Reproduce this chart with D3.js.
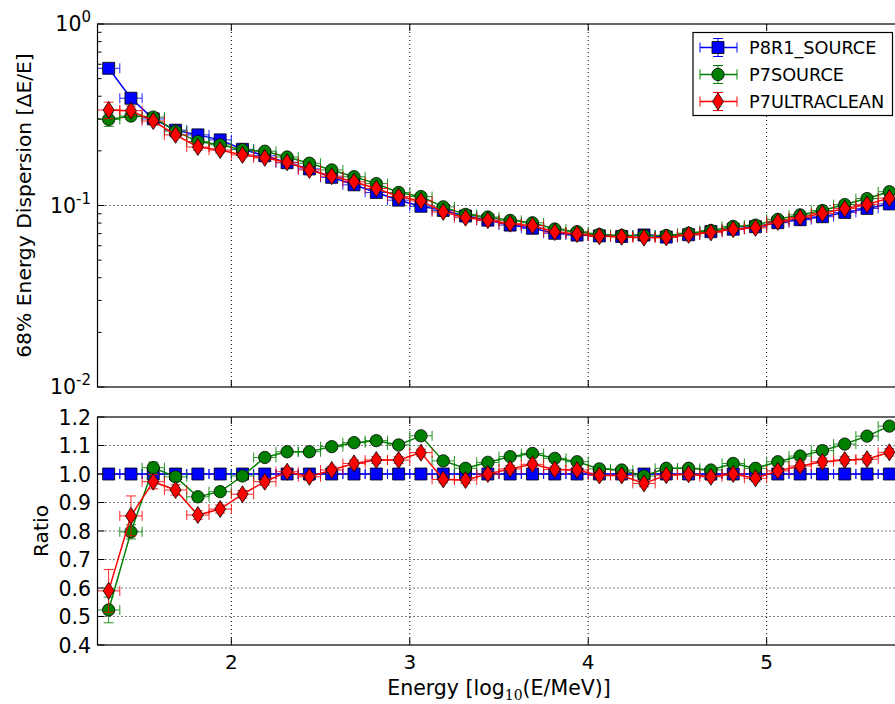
<!DOCTYPE html>
<html>
<head>
<meta charset="utf-8">
<script src="https://cdn.jsdelivr.net/npm/d3@7"></script>
<style>
  body { margin: 0; background: #fff; }
  text { font-family: "DejaVu Sans", sans-serif; fill: #000; }
</style>
</head>
<body>
<div id="chart"></div>
<script>
// energy bin centres, log10(E/MeV)
var energy = [1.3125, 1.4375, 1.5625, 1.6875, 1.8125, 1.9375, 2.0625, 2.1875, 2.3125, 2.4375, 2.5625, 2.6875,
  2.8125, 2.9375, 3.0625, 3.1875, 3.3125, 3.4375, 3.5625, 3.6875, 3.8125, 3.9375, 4.0625, 4.1875,
  4.3125, 4.4375, 4.5625, 4.6875, 4.8125, 4.9375, 5.0625, 5.1875, 5.3125, 5.4375, 5.5625, 5.6875];
var binHalf = 0.0625;

var seriesNames = ["P8R1_SOURCE", "P7SOURCE", "P7ULTRACLEAN"];

// 68% energy dispersion
var dispP8 = [0.57, 0.39, 0.30, 0.26, 0.245, 0.23, 0.204, 0.188, 0.172, 0.159, 0.143, 0.130,
  0.118, 0.107, 0.099, 0.094, 0.0875, 0.083, 0.078, 0.0749, 0.0703, 0.0687, 0.068, 0.0675,
  0.0688, 0.067, 0.069, 0.0718, 0.074, 0.0764, 0.0804, 0.0835, 0.0867, 0.0916, 0.0964, 0.102];
var dispP7 = [0.298, 0.311, 0.307, 0.257, 0.225, 0.216, 0.203, 0.199, 0.185, 0.171, 0.157, 0.144,
  0.132, 0.118, 0.112, 0.0983, 0.0893, 0.0864, 0.0828, 0.0803, 0.0742, 0.0717, 0.0692, 0.0684,
  0.0683, 0.0683, 0.0704, 0.0728, 0.0767, 0.0779, 0.0839, 0.0888, 0.0938, 0.1012, 0.1092, 0.1191];
var dispUC = [0.336, 0.333, 0.292, 0.245, 0.210, 0.202, 0.190, 0.183, 0.173, 0.157, 0.145, 0.135,
  0.124, 0.112, 0.106, 0.0922, 0.0857, 0.083, 0.0794, 0.0774, 0.0714, 0.0697, 0.0677, 0.0672,
  0.0665, 0.0667, 0.0689, 0.0711, 0.074, 0.0753, 0.0813, 0.0858, 0.0904, 0.0961, 0.1014, 0.1098];

var dispErrP8 = [0.02, 0.015, 0.008, 0.006, 0.005, 0.005, 0.004, 0.004, 0.003, 0.003, 0.003, 0.003,
  0.002, 0.002, 0.002, 0.002, 0.002, 0.0015, 0.0015, 0.0015, 0.0015, 0.0015, 0.0015, 0.0015,
  0.0015, 0.0015, 0.0015, 0.0015, 0.0015, 0.0015, 0.002, 0.002, 0.002, 0.002, 0.0025, 0.0025];
var dispErrP7 = [0.025, 0.012, 0.01, 0.008, 0.007, 0.006, 0.005, 0.005, 0.004, 0.004, 0.004, 0.003,
  0.003, 0.003, 0.003, 0.002, 0.002, 0.002, 0.002, 0.002, 0.002, 0.0015, 0.0015, 0.0015,
  0.0015, 0.0015, 0.0015, 0.0015, 0.002, 0.002, 0.002, 0.002, 0.0025, 0.0025, 0.003, 0.003];
var dispErrUC = [0.035, 0.02, 0.012, 0.009, 0.008, 0.007, 0.006, 0.005, 0.005, 0.004, 0.004, 0.004,
  0.003, 0.003, 0.003, 0.0025, 0.002, 0.002, 0.002, 0.002, 0.002, 0.002, 0.0015, 0.0015,
  0.0015, 0.0015, 0.0015, 0.0015, 0.002, 0.002, 0.002, 0.002, 0.0025, 0.0025, 0.003, 0.003];

// ratio to P8R1_SOURCE
var ratioP8 = [1, 1, 1, 1, 1, 1, 1, 1, 1, 1, 1, 1, 1, 1, 1, 1, 1, 1,
  1, 1, 1, 1, 1, 1, 1, 1, 1, 1, 1, 1, 1, 1, 1, 1, 1, 1];
var ratioP7 = [0.523, 0.797, 1.022, 0.99, 0.92, 0.938, 0.993, 1.058, 1.078, 1.078, 1.096, 1.11,
  1.117, 1.102, 1.134, 1.046, 1.02, 1.041, 1.061, 1.072, 1.055, 1.043, 1.018, 1.014,
  0.993, 1.02, 1.02, 1.014, 1.037, 1.02, 1.043, 1.063, 1.082, 1.105, 1.133, 1.168];
var ratioUC = [0.59, 0.853, 0.973, 0.944, 0.856, 0.877, 0.929, 0.973, 1.008, 0.99, 1.014, 1.037,
  1.049, 1.049, 1.075, 0.981, 0.979, 1.0, 1.018, 1.034, 1.016, 1.014, 0.995, 0.995,
  0.967, 0.996, 0.999, 0.99, 1.0, 0.985, 1.011, 1.028, 1.043, 1.049, 1.052, 1.076];

var ratioErrP8 = [0.014, 0.008, 0.005, 0.005, 0.005, 0.005, 0.004, 0.004, 0.004, 0.004, 0.004, 0.004,
  0.004, 0.004, 0.004, 0.004, 0.004, 0.004, 0.004, 0.004, 0.004, 0.004, 0.004, 0.004,
  0.004, 0.004, 0.004, 0.004, 0.004, 0.004, 0.004, 0.004, 0.004, 0.004, 0.004, 0.004];
var ratioErrP7 = [0.045, 0.025, 0.02, 0.015, 0.013, 0.012, 0.011, 0.011, 0.01, 0.01, 0.01, 0.01,
  0.01, 0.01, 0.01, 0.01, 0.01, 0.01, 0.01, 0.01, 0.01, 0.01, 0.01, 0.01,
  0.01, 0.01, 0.01, 0.01, 0.01, 0.01, 0.012, 0.012, 0.012, 0.012, 0.012, 0.012];
var ratioErrUC = [0.075, 0.07, 0.025, 0.018, 0.015, 0.014, 0.013, 0.012, 0.012, 0.012, 0.012, 0.012,
  0.012, 0.012, 0.012, 0.012, 0.012, 0.012, 0.012, 0.012, 0.012, 0.012, 0.012, 0.012,
  0.012, 0.012, 0.012, 0.012, 0.012, 0.012, 0.013, 0.013, 0.013, 0.013, 0.013, 0.013];

var xTicks = [2, 3, 4, 5];
var ratioTicks = [0.4, 0.5, 0.6, 0.7, 0.8, 0.9, 1.0, 1.1, 1.2];
var decadeTicks = [1, 0.1, 0.01];
var decadeExp = ["0", "-1", "-2"];

var svgWidth = 895, svgHeight = 704;
var left = 97.5, right = 900.5;
var topPanel = { top: 24, bottom: 387 };
var botPanel = { top: 417, bottom: 645 };

var colors = ["#0000ff", "#008000", "#ff0000"];
var shapes = ["square", "circle", "diamond"];

var svg = d3.select("#chart").append("svg")
  .attr("width", svgWidth)
  .attr("height", svgHeight);

var xScale = d3.scaleLinear().domain([1.25, 5.75]).range([left, right]);
var yTop = d3.scaleLog().domain([0.01, 1]).range([topPanel.bottom, topPanel.top]);
var yBot = d3.scaleLinear().domain([0.4, 1.2]).range([botPanel.bottom, botPanel.top]);

function markerPath(shape) {
  if (shape == "square") return "M-6,-6H6V6H-6Z";
  if (shape == "circle") return d3.symbol().type(d3.symbolCircle).size(120)();
  return "M0,-8.5L5.5,0L0,8.5L-5.5,0Z";
}

function drawGrid(g, yScale, yGridVals, panel) {
  g.selectAll(".vgrid").data(xTicks).enter().append("line")
    .attr("x1", d => xScale(d)).attr("x2", d => xScale(d))
    .attr("y1", panel.top).attr("y2", panel.bottom)
    .attr("stroke", "#000").attr("stroke-width", 1).attr("stroke-dasharray", "1,3");
  g.selectAll(".hgrid").data(yGridVals).enter().append("line")
    .attr("x1", left).attr("x2", right)
    .attr("y1", d => yScale(d)).attr("y2", d => yScale(d))
    .attr("stroke", "#000").attr("stroke-width", 1).attr("stroke-dasharray", "1,3");
}

function drawSeries(g, yScale, vals, errs, color, shape) {
  var pts = energy.map((e, i) => ({ x: e, y: vals[i], err: errs[i] }));
  var sg = g.append("g");
  // error bars
  var eb = sg.selectAll(".eb").data(pts).enter().append("g")
    .attr("stroke", color).attr("stroke-width", 1).attr("opacity", 0.85);
  eb.append("line")
    .attr("x1", d => xScale(d.x - binHalf)).attr("x2", d => xScale(d.x + binHalf))
    .attr("y1", d => yScale(d.y)).attr("y2", d => yScale(d.y));
  eb.append("line")
    .attr("x1", d => xScale(d.x - binHalf)).attr("x2", d => xScale(d.x - binHalf))
    .attr("y1", d => yScale(d.y) - 5).attr("y2", d => yScale(d.y) + 5);
  eb.append("line")
    .attr("x1", d => xScale(d.x + binHalf)).attr("x2", d => xScale(d.x + binHalf))
    .attr("y1", d => yScale(d.y) - 5).attr("y2", d => yScale(d.y) + 5);
  eb.append("line")
    .attr("x1", d => xScale(d.x)).attr("x2", d => xScale(d.x))
    .attr("y1", d => yScale(d.y + d.err)).attr("y2", d => yScale(d.y - d.err));
  eb.append("line")
    .attr("x1", d => xScale(d.x) - 5).attr("x2", d => xScale(d.x) + 5)
    .attr("y1", d => yScale(d.y + d.err)).attr("y2", d => yScale(d.y + d.err));
  eb.append("line")
    .attr("x1", d => xScale(d.x) - 5).attr("x2", d => xScale(d.x) + 5)
    .attr("y1", d => yScale(d.y - d.err)).attr("y2", d => yScale(d.y - d.err));

  var line = d3.line().x(d => xScale(d.x)).y(d => yScale(d.y));
  sg.append("path").datum(pts)
    .attr("d", line)
    .attr("fill", "none").attr("stroke", color).attr("stroke-width", 1.5);

  sg.selectAll(".mk").data(pts).enter().append("path")
    .attr("d", markerPath(shape))
    .attr("transform", d => `translate(${xScale(d.x)},${yScale(d.y)})`)
    .attr("fill", color).attr("stroke", "#000").attr("stroke-width", 0.8);
}

function drawFrame(g, panel) {
  g.append("rect")
    .attr("x", left).attr("y", panel.top)
    .attr("width", right - left).attr("height", panel.bottom - panel.top)
    .attr("fill", "none").attr("stroke", "#000").attr("stroke-width", 1.2);
  // x ticks, pointing inwards, top and bottom
  g.selectAll(".xtb").data(xTicks).enter().append("line")
    .attr("x1", d => xScale(d)).attr("x2", d => xScale(d))
    .attr("y1", panel.bottom).attr("y2", panel.bottom - 7)
    .attr("stroke", "#000");
  g.selectAll(".xtt").data(xTicks).enter().append("line")
    .attr("x1", d => xScale(d)).attr("x2", d => xScale(d))
    .attr("y1", panel.top).attr("y2", panel.top + 7)
    .attr("stroke", "#000");
}

// ---------- top panel ----------
var gTop = svg.append("g");
drawGrid(gTop, yTop, [0.1], topPanel);

var dataTop = gTop.append("g");
drawSeries(dataTop, yTop, dispP8, dispErrP8, colors[0], shapes[0]);
drawSeries(dataTop, yTop, dispP7, dispErrP7, colors[1], shapes[1]);
drawSeries(dataTop, yTop, dispUC, dispErrUC, colors[2], shapes[2]);

drawFrame(gTop, topPanel);

// log minor ticks
var minorTicks = yTop.ticks().filter(d => decadeTicks.indexOf(d) < 0);
gTop.selectAll(".minor").data(minorTicks).enter().append("line")
  .attr("x1", left).attr("x2", left + 4)
  .attr("y1", d => yTop(d)).attr("y2", d => yTop(d))
  .attr("stroke", "#000");
gTop.selectAll(".major").data(decadeTicks).enter().append("line")
  .attr("x1", left).attr("x2", left + 7)
  .attr("y1", d => yTop(d)).attr("y2", d => yTop(d))
  .attr("stroke", "#000");

var decLabels = gTop.selectAll(".declab").data(decadeTicks).enter().append("text")
  .attr("x", 91).attr("y", d => yTop(d) + 7)
  .attr("text-anchor", "end")
  .style("font-size", "20.5px");
decLabels.append("tspan").text("10");
decLabels.append("tspan").attr("dy", -9).style("font-size", "15px").text((d, i) => decadeExp[i]);

gTop.append("text")
  .attr("transform", `translate(31,${(topPanel.top + topPanel.bottom) / 2}) rotate(-90)`)
  .attr("text-anchor", "middle")
  .style("font-size", "20.3px")
  .text("68% Energy Dispersion [ΔE/E]");

// legend
var legend = gTop.append("g");
legend.append("rect")
  .attr("x", 693).attr("y", 32.5).attr("width", 199.5).attr("height", 83)
  .attr("fill", "#fff").attr("stroke", "#000").attr("stroke-width", 1.2);
var legItems = legend.selectAll(".li").data(seriesNames).enter().append("g")
  .attr("transform", (d, i) => `translate(718,${47.5 + i * 27})`);
legItems.append("line").attr("x1", -18).attr("x2", 19).attr("y1", 0).attr("y2", 0)
  .attr("stroke", (d, i) => colors[i]).attr("stroke-width", 1.5);
legItems.append("line").attr("x1", -18).attr("x2", -18).attr("y1", -5).attr("y2", 5)
  .attr("stroke", (d, i) => colors[i]);
legItems.append("line").attr("x1", 19).attr("x2", 19).attr("y1", -5).attr("y2", 5)
  .attr("stroke", (d, i) => colors[i]);
legItems.append("line").attr("x1", 0).attr("x2", 0).attr("y1", -9).attr("y2", 9)
  .attr("stroke", (d, i) => colors[i]);
legItems.append("line").attr("x1", -5).attr("x2", 5).attr("y1", -9).attr("y2", -9)
  .attr("stroke", (d, i) => colors[i]);
legItems.append("line").attr("x1", -5).attr("x2", 5).attr("y1", 9).attr("y2", 9)
  .attr("stroke", (d, i) => colors[i]);
legItems.append("path")
  .attr("d", (d, i) => markerPath(shapes[i]))
  .attr("fill", (d, i) => colors[i]).attr("stroke", "#000").attr("stroke-width", 0.8);
legItems.append("text")
  .attr("x", 31).attr("y", 6.5)
  .style("font-size", "17.7px")
  .text(d => d);

// ---------- bottom panel ----------
var gBot = svg.append("g");
drawGrid(gBot, yBot, ratioTicks.slice(1, -1), botPanel);
drawSeries(gBot, yBot, ratioP8, ratioErrP8, colors[0], shapes[0]);
drawSeries(gBot, yBot, ratioP7, ratioErrP7, colors[1], shapes[1]);
drawSeries(gBot, yBot, ratioUC, ratioErrUC, colors[2], shapes[2]);
drawFrame(gBot, botPanel);

gBot.selectAll(".ytk").data(ratioTicks).enter().append("line")
  .attr("x1", left).attr("x2", left + 7)
  .attr("y1", d => yBot(d)).attr("y2", d => yBot(d))
  .attr("stroke", "#000");
gBot.selectAll(".ylab").data(ratioTicks).enter().append("text")
  .attr("x", 91).attr("y", d => yBot(d) + 7.5)
  .attr("text-anchor", "end")
  .style("font-size", "20.5px")
  .text(d => d3.format(".1f")(d));

gBot.selectAll(".xlab").data(xTicks).enter().append("text")
  .attr("x", d => xScale(d)).attr("y", 669)
  .attr("text-anchor", "middle")
  .style("font-size", "20px")
  .text(d => d);

gBot.append("text")
  .attr("transform", `translate(48,${(botPanel.top + botPanel.bottom) / 2}) rotate(-90)`)
  .attr("text-anchor", "middle")
  .style("font-size", "20.3px")
  .text("Ratio");

var xTitle = gBot.append("text")
  .attr("x", (left + right) / 2).attr("y", 695)
  .attr("text-anchor", "middle")
  .style("font-size", "20.5px");
xTitle.append("tspan").text("Energy [log");
xTitle.append("tspan").attr("dy", 4.5)
  .style("font-size", "14px").style("font-family", "'DejaVu Serif', serif")
  .text("10");
xTitle.append("tspan").attr("dy", -4.5).text("(E/MeV)]");
</script>
</body>
</html>
